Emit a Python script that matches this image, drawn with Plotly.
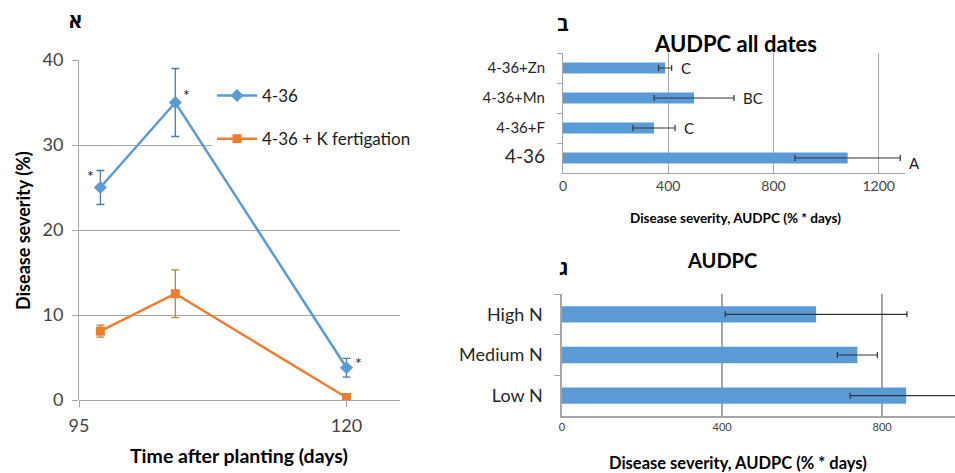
import plotly.graph_objects as go

# ---- Panel א : disease severity over time ----
days = [97, 104, 120]
sev_436 = [25, 35, 3.8]
err_436 = [2, 4, 1.1]
sev_k = [8.1, 12.5, 0.3]
err_k = [0.7, 2.8, 0.3]
series_names = ["4-36", "4-36 + K fertigation"]

# ---- Panel ב : AUDPC all dates ----
treat_cats = ["4-36", "4-36+F", "4-36+Mn", "4-36+Zn"]
treat_audpc = [1082, 346, 498, 388]
treat_err = [200, 80, 152, 25]
treat_letters = ["A", "C", "BC", "C"]

# ---- Panel ג : AUDPC nitrogen ----
n_cats = ["Low N", "Medium N", "High N"]
n_audpc = [860, 738, 635]
n_err = [140, 50, 227]

FONT = "Lato, 'Open Sans', sans-serif"
BLUE = "#5B9BD5"
ORANGE = "#ED7D31"
GRID = "#A6A6A6"
TICK = "#444444"
DARK = "#1a1a1a"

fig = go.Figure()

fig.add_trace(go.Scatter(
    x=days, y=sev_436, name=series_names[0], legendgroup="a",
    mode="lines+markers",
    line=dict(color=BLUE, width=2.5),
    marker=dict(symbol="diamond", size=10, color=BLUE),
    error_y=dict(type="data", array=err_436, color="#4A7BA7", thickness=1.3, width=4),
    xaxis="x", yaxis="y"))
fig.add_trace(go.Scatter(
    x=days, y=sev_k, name=series_names[1], legendgroup="b",
    mode="lines+markers",
    line=dict(color=ORANGE, width=2.5),
    marker=dict(symbol="square", size=9, color=ORANGE),
    error_y=dict(type="data", array=err_k, color="#B08A3E", thickness=1.3, width=4),
    xaxis="x", yaxis="y"))

fig.add_trace(go.Bar(
    y=treat_cats, x=treat_audpc, orientation="h", width=0.37,
    marker=dict(color=BLUE, line=dict(width=0)),
    error_x=dict(type="data", array=treat_err, color="#333333", thickness=1.2, width=3),
    showlegend=False, xaxis="x2", yaxis="y2"))

fig.add_trace(go.Bar(
    y=n_cats, x=n_audpc, orientation="h", width=0.4,
    marker=dict(color=BLUE, line=dict(width=0)),
    error_x=dict(type="data", array=n_err, color="#333333", thickness=1.2, width=3),
    showlegend=False, xaxis="x3", yaxis="y3"))

H = 473.0
W = 955.0


def paper_text(text, px, py, size, angle=0):
    return dict(text=text, x=px / W, y=1 - py / H, xref="paper", yref="paper",
                xanchor="center", yanchor="middle", textangle=angle,
                showarrow=False, font=dict(size=size, color="#000", family=FONT))


annotations = []
# Hebrew panel letters
for txt, px, py in [("א", 75, 20), ("ב", 563, 23), ("ג", 563, 267)]:
    annotations.append(paper_text("<b>%s</b>" % txt, px, py, 20))
# asterisks
for xv, yv, dx, dy in [(days[0], sev_436[0], -10, 12), (days[1], sev_436[1], 11, 8), (days[2], sev_436[2], 12, 5)]:
    annotations.append(dict(text="*", x=xv, y=yv, xref="x", yref="y", xshift=dx, yshift=dy,
                            xanchor="center", yanchor="middle",
                            showarrow=False, font=dict(size=16, color=DARK, family=FONT)))
# axis titles
annotations += [
    paper_text("<b>Disease severity (%)</b>", 23, 231, 18, -90),
    paper_text("<b>Time after planting (days)</b>", 239, 455, 19.5),
    paper_text("<b>AUDPC all dates</b>", 735, 43, 22),
    paper_text("<b>Disease severity, AUDPC (% * days)</b>", 735, 218, 13.5),
    paper_text("<b>AUDPC</b>", 722, 260, 20),
    paper_text("<b>Disease severity, AUDPC (% * days)</b>", 738, 463, 16.5),
]
# significance letters
for cat, val, err, letter in zip(treat_cats, treat_audpc, treat_err, treat_letters):
    ys = -5 if letter == "A" else 0
    annotations.append(dict(text=letter, x=val + err, y=cat, xref="x2", yref="y2",
                            xanchor="left", yanchor="middle", xshift=7, yshift=ys, showarrow=False,
                            font=dict(size=15, color=DARK, family=FONT)))

treat_ticktext = []
for c in treat_cats:
    if c == "4-36":
        treat_ticktext.append('<span style="font-size:19px">%s</span>' % c)
    else:
        treat_ticktext.append(c)

fig.update_layout(
    width=955, height=473,
    margin=dict(l=0, r=0, t=0, b=0, autoexpand=False),
    paper_bgcolor="white", plot_bgcolor="white",
    font=dict(family=FONT, color=TICK),
    showlegend=True,
    legend=dict(x=212 / W, y=1 - 78 / H, xanchor="left", yanchor="top",
                bgcolor="white", font=dict(size=17, color="#1a1a1a", family=FONT),
                tracegroupgap=18, itemwidth=40),
    annotations=annotations,
    xaxis=dict(domain=[79 / W, 400 / W], range=[95, 125], tickvals=[95, 120],
               showgrid=False, zeroline=False, showline=False,
               ticks="outside", ticklen=6, tickcolor=GRID, ticklabelstandoff=3,
               tickfont=dict(size=18, color=TICK), anchor="y", automargin=False),
    yaxis=dict(domain=[1 - 400 / H, 1 - 60 / H], range=[0, 40], tickvals=[0, 10, 20, 30, 40],
               showgrid=True, gridcolor=GRID, gridwidth=1, zeroline=True, zerolinecolor=GRID, zerolinewidth=1,
               showline=True, linecolor=GRID, linewidth=1,
               ticks="outside", ticklen=6, tickcolor=GRID, ticklabelstandoff=5,
               tickfont=dict(size=18, color=TICK), anchor="x", automargin=False),
    xaxis2=dict(domain=[563 / W, 905 / W], range=[0, 1300], tickvals=[0, 400, 800, 1200],
                showgrid=True, gridcolor=GRID, gridwidth=1, zeroline=False,
                showline=True, linecolor=GRID, linewidth=1,
                ticks="", tickfont=dict(size=14, color=TICK), anchor="y2", automargin=False),
    yaxis2=dict(domain=[1 - 173 / H, 1 - 53 / H], range=[-0.5, 3.5],
                categoryorder="array", categoryarray=treat_cats,
                tickvals=treat_cats, ticktext=treat_ticktext,
                showline=True, linecolor=GRID, linewidth=1,
                ticks="outside", tickson="boundaries", ticklen=5, tickcolor=GRID,
                ticklabelstandoff=14,
                tickfont=dict(size=15, color="#262626"), anchor="x2", showgrid=False, automargin=False),
    xaxis3=dict(domain=[562 / W, 1.0], range=[0, 982], tickvals=[0, 400, 800],
                showgrid=True, gridcolor=GRID, gridwidth=1.5, zeroline=False,
                showline=True, linecolor=GRID, linewidth=1.5,
                ticks="", tickfont=dict(size=11, color=TICK), anchor="y3", automargin=False),
    yaxis3=dict(domain=[1 - 416 / H, 1 - 294 / H], range=[-0.5, 2.5],
                categoryorder="array", categoryarray=n_cats,
                showline=True, linecolor=GRID, linewidth=1.5,
                ticks="outside", tickson="boundaries", ticklen=6, tickcolor=GRID,
                ticklabelstandoff=14,
                tickfont=dict(size=18, color="#262626"), anchor="x3", showgrid=False, automargin=False),
)

fig.write_html("out.html")
